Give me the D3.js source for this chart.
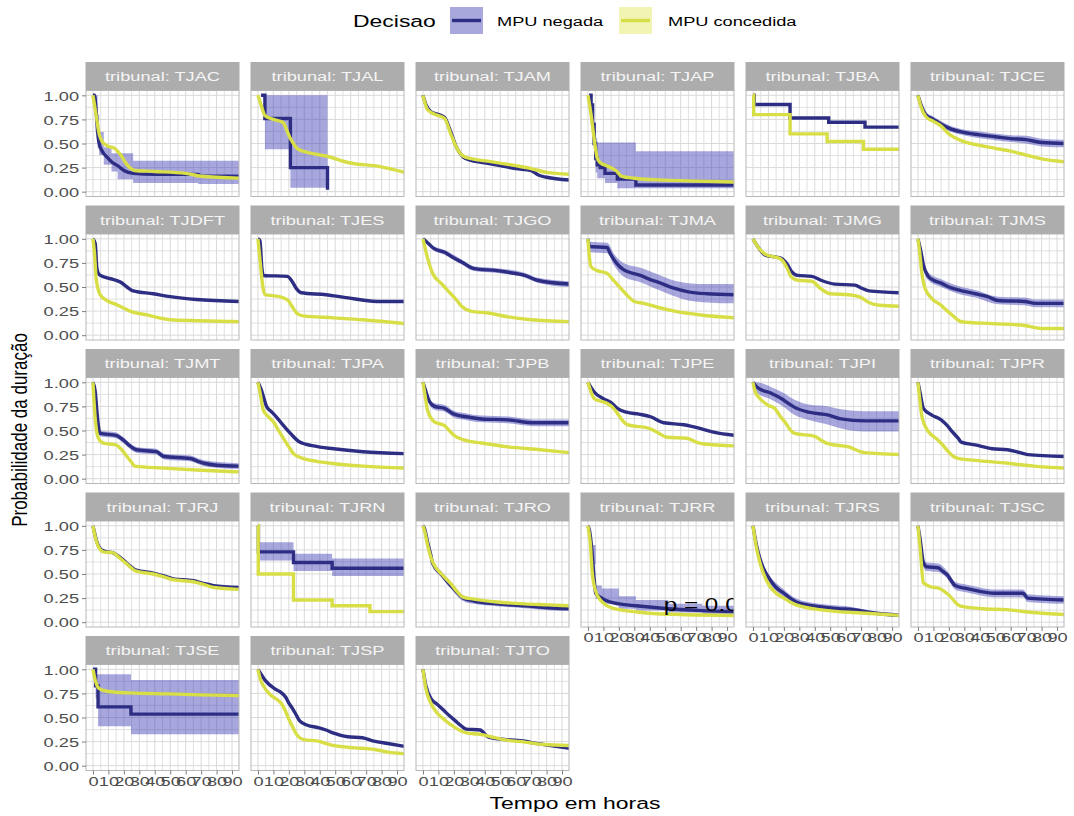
<!DOCTYPE html>
<html>
<head>
<meta charset="utf-8">
<script src="https://cdn.jsdelivr.net/npm/d3@7"></script>
<style>
body { margin: 0; background: #fff; }
text { font-family: "Liberation Sans", Arial, sans-serif; }
</style>
</head>
<body>
<svg id="chart" width="1074" height="816"></svg>
<script>
// dados (tempo em horas, probabilidade)
var tribunais = ["TJAC","TJAL","TJAM","TJAP","TJBA","TJCE",
                 "TJDFT","TJES","TJGO","TJMA","TJMG","TJMS",
                 "TJMT","TJPA","TJPB","TJPE","TJPI","TJPR",
                 "TJRJ","TJRN","TJRO","TJRR","TJRS","TJSC",
                 "TJSE","TJSP","TJTO"];

var negada = [
  [[0,1],[1,1],[2,0.85],[3,0.62],[4,0.5],[6,0.42],[9,0.36],[12,0.31],[16,0.27],[20,0.22],[26,0.19],[40,0.18],[68,0.18],[70,0.16],[95,0.16]],
  [[2,1],[4.5,0.76],[21,0.25],[45,0.02]],
  [[0,1],[2,0.9],[5,0.83],[10,0.8],[14,0.77],[18,0.62],[22,0.45],[26,0.36],[30,0.33],[40,0.3],[50,0.27],[60,0.24],[70,0.22],[75,0.17],[80,0.15],[95,0.12]],
  [[0.7,1],[2,0.9],[3,0.7],[4,0.5],[5,0.35],[6,0.28],[8,0.25],[11,0.19],[19,0.13],[31,0.07],[95,0.07]],
  [[0,1],[0.8,0.905],[24,0.765],[49,0.72],[72.5,0.67],[95,0.67]],
  [[0,1],[2,0.9],[5,0.8],[10,0.75],[15,0.7],[20,0.66],[28,0.62],[40,0.59],[50,0.57],[60,0.55],[70,0.54],[80,0.51],[95,0.5]],
  [[0,1],[1.5,0.95],[2.5,0.7],[4,0.63],[8,0.6],[13,0.58],[18,0.55],[22,0.5],[26,0.46],[39,0.43],[50,0.4],[67,0.37],[95,0.35]],
  [[0,1],[1.3,0.98],[2.5,0.7],[3.5,0.62],[19,0.61],[22,0.56],[25,0.48],[28,0.44],[44,0.42],[57,0.39],[77,0.35],[95,0.35]],
  [[0,1],[3,0.96],[7,0.9],[14,0.86],[20,0.8],[25,0.76],[33,0.69],[48,0.67],[60,0.64],[66,0.62],[74,0.57],[95,0.53]],
  [[0,1],[1,0.92],[12.5,0.91],[14,0.86],[17,0.78],[20,0.72],[23,0.68],[34,0.62],[40,0.58],[47,0.54],[55,0.49],[65,0.45],[77,0.43],[95,0.42]],
  [[0,1],[4,0.9],[8,0.83],[18,0.8],[22,0.74],[25,0.66],[29,0.62],[38,0.61],[44,0.57],[53,0.53],[66,0.52],[70,0.49],[75,0.46],[95,0.44]],
  [[0,1],[2,0.86],[3.5,0.73],[6.7,0.61],[10,0.57],[15,0.54],[20,0.5],[26,0.47],[37,0.43],[45,0.4],[52,0.36],[69,0.35],[76,0.33],[95,0.33]],
  [[0,1],[1.5,0.9],[2.4,0.73],[3.5,0.55],[4.6,0.47],[15,0.45],[19.7,0.4],[24,0.34],[28,0.3],[41,0.28],[46,0.23],[63,0.21],[68,0.18],[72,0.16],[80,0.14],[95,0.13]],
  [[0,1],[2,0.93],[5.6,0.75],[9,0.69],[12,0.64],[16,0.56],[21,0.47],[27,0.38],[36,0.34],[49,0.31],[68,0.28],[95,0.26]],
  [[0,1],[2,0.9],[4.2,0.8],[7.4,0.75],[14,0.73],[20,0.67],[29,0.64],[38,0.62],[55,0.61],[72,0.58],[95,0.58]],
  [[0,1],[4,0.9],[10,0.83],[15,0.79],[19,0.73],[25,0.69],[33,0.67],[41,0.64],[49,0.58],[62,0.56],[73,0.52],[82,0.48],[95,0.45]],
  [[0,1],[2,0.96],[3.5,0.94],[12,0.885],[18.6,0.83],[23,0.78],[27,0.74],[36,0.69],[49,0.66],[57,0.62],[72,0.6],[95,0.6]],
  [[0,1],[1.5,0.88],[3.5,0.73],[9,0.66],[15,0.61],[19,0.55],[22,0.49],[26,0.42],[28,0.38],[37,0.35],[48,0.31],[58,0.3],[66,0.27],[71,0.25],[95,0.23]],
  [[0,1],[1,0.93],[2.4,0.84],[4,0.78],[6.7,0.74],[13,0.72],[17,0.68],[20,0.64],[25,0.57],[28,0.54],[39,0.51],[46,0.48],[52,0.45],[65,0.43],[72,0.4],[78,0.38],[95,0.36]],
  [[0,1],[0.3,0.73],[23,0.62],[48,0.56],[95,0.56]],
  [[0,1],[1,0.97],[3,0.83],[5,0.7],[6.3,0.61],[11.7,0.5],[18,0.38],[22,0.31],[26,0.25],[33,0.22],[48,0.19],[66,0.17],[81,0.15],[95,0.14]],
  [[0,1],[1,0.95],[2.8,0.7],[4,0.45],[5,0.3],[9,0.25],[14,0.21],[20,0.19],[31,0.17],[52,0.14],[74,0.12],[95,0.11]],
  [[0,1],[2.4,0.79],[4.5,0.66],[6.7,0.56],[11,0.44],[15,0.36],[20,0.3],[24,0.25],[28,0.21],[35,0.18],[43,0.16],[55,0.14],[65,0.13],[76,0.1],[95,0.07]],
  [[0,1],[1.5,0.85],[3.5,0.62],[5.6,0.575],[13,0.565],[16,0.53],[19,0.49],[22,0.42],[24,0.38],[31,0.35],[40,0.32],[49,0.3],[68,0.3],[71,0.25],[95,0.23]],
  [[0,1],[1.7,0.83],[3.3,0.61],[24.6,0.535],[95,0.535]],
  [[0,1],[2,0.95],[4.7,0.885],[10.7,0.8],[14,0.77],[18,0.71],[20,0.65],[22.5,0.59],[25,0.52],[27,0.465],[32,0.42],[39,0.395],[44,0.37],[48.5,0.34],[58,0.3],[67.5,0.29],[75,0.255],[84,0.23],[95,0.2]],
  [[0,1],[1.9,0.83],[5.4,0.69],[9,0.64],[13.7,0.57],[17,0.52],[21,0.465],[25,0.41],[28,0.38],[37,0.37],[42,0.3],[54,0.27],[66,0.255],[70,0.24],[78,0.22],[95,0.18]]
];

var concedida = [
  [[0,1],[2,0.8],[4,0.6],[6,0.52],[10,0.47],[14,0.45],[18,0.38],[22,0.28],[27,0.22],[40,0.21],[60,0.19],[70,0.16],[95,0.14]],
  [[0,1],[2,0.9],[4.5,0.79],[10,0.75],[16,0.72],[20.7,0.56],[26,0.44],[34,0.4],[44,0.37],[59,0.3],[79,0.26],[95,0.2]],
  [[0,1],[3,0.85],[8,0.8],[14,0.76],[18,0.6],[22,0.45],[26,0.37],[32,0.34],[45,0.31],[60,0.27],[70,0.24],[80,0.2],[95,0.18]],
  [[0,1],[2,0.8],[4,0.55],[6,0.35],[8,0.3],[12,0.27],[18,0.22],[22,0.16],[30,0.14],[50,0.12],[70,0.11],[95,0.1]],
  [[0,1],[0.5,0.8],[24,0.6],[48,0.52],[71.5,0.44],[95,0.44]],
  [[0,1],[2,0.88],[5,0.78],[10,0.73],[15,0.68],[20,0.6],[28,0.53],[40,0.48],[50,0.45],[60,0.42],[70,0.38],[80,0.34],[95,0.31]],
  [[0,1],[1,0.85],[2,0.6],[3,0.5],[4.6,0.42],[9,0.36],[15,0.32],[20,0.28],[24,0.25],[35,0.21],[50,0.16],[67,0.15],[95,0.14]],
  [[0,1],[1.5,0.75],[3,0.52],[4.5,0.42],[14,0.4],[19.6,0.36],[22,0.3],[25,0.23],[29,0.2],[49,0.18],[68,0.16],[95,0.12]],
  [[0,1],[3,0.8],[6.3,0.64],[11.7,0.54],[18,0.43],[22,0.36],[25,0.3],[31,0.25],[42,0.23],[55,0.19],[70,0.16],[95,0.14]],
  [[0,1],[1,0.8],[2,0.71],[6,0.67],[12.5,0.64],[16,0.58],[21,0.49],[25,0.42],[30,0.35],[36,0.33],[45,0.29],[56,0.25],[73,0.21],[95,0.18]],
  [[0,1],[4,0.9],[8,0.84],[18,0.79],[22,0.7],[25,0.6],[29,0.57],[38,0.56],[44,0.48],[50,0.43],[62,0.42],[70,0.39],[75,0.34],[82,0.31],[95,0.3]],
  [[0,1],[1.2,0.85],[2.4,0.66],[4.5,0.49],[9,0.38],[15,0.31],[19,0.25],[22,0.21],[28,0.14],[48,0.12],[69,0.1],[80,0.07],[95,0.07]],
  [[0,1],[1.3,0.66],[2.5,0.48],[3.5,0.42],[6.7,0.37],[15,0.35],[18,0.31],[22,0.23],[25,0.17],[27,0.13],[46,0.11],[67,0.09],[95,0.07]],
  [[0,1],[1.5,0.88],[3.5,0.71],[7,0.64],[10,0.59],[13,0.51],[16.4,0.42],[20,0.33],[23,0.26],[29,0.21],[38,0.18],[47,0.16],[68,0.13],[95,0.11]],
  [[0,1],[1.5,0.85],[3,0.71],[7.4,0.59],[14,0.55],[17,0.5],[20,0.45],[27,0.4],[38,0.37],[55,0.33],[76,0.3],[95,0.27]],
  [[0,1],[2,0.9],[4,0.83],[12.5,0.78],[16,0.74],[19,0.68],[22,0.61],[25.5,0.56],[40,0.52],[46,0.47],[51,0.43],[64,0.42],[70,0.38],[75,0.36],[95,0.34]],
  [[0,1],[1.5,0.9],[3.5,0.85],[10,0.76],[14,0.73],[18,0.64],[21,0.58],[24,0.51],[27,0.47],[40,0.44],[45,0.39],[49,0.36],[62,0.33],[68,0.29],[72,0.27],[95,0.25]],
  [[0,1],[1.2,0.82],[2.4,0.66],[4.5,0.55],[6.7,0.49],[13,0.4],[16,0.35],[19.6,0.28],[23,0.23],[26,0.21],[37,0.19],[58,0.16],[75,0.13],[95,0.11]],
  [[0,1],[1,0.92],[2.4,0.83],[4,0.77],[6.7,0.73],[13,0.72],[17,0.67],[20,0.63],[25,0.56],[28,0.53],[39,0.5],[46,0.47],[52,0.44],[65,0.42],[72,0.39],[78,0.36],[95,0.34]],
  [[0,1],[0.2,0.5],[23,0.23],[48,0.17],[72.5,0.11],[95,0.11]],
  [[0,1],[1,0.95],[3,0.8],[5,0.68],[7,0.6],[12,0.5],[18,0.4],[22,0.32],[26,0.26],[33,0.24],[48,0.21],[66,0.19],[81,0.18],[95,0.17]],
  [[0,1],[1.5,0.82],[2.8,0.51],[4,0.38],[6,0.28],[8,0.23],[11.5,0.18],[20,0.13],[30,0.11],[42,0.09],[60,0.08],[95,0.07]],
  [[0,1],[2.4,0.76],[4.5,0.62],[6.7,0.51],[11,0.37],[15,0.3],[20,0.25],[24,0.21],[28,0.18],[35,0.15],[43,0.13],[55,0.11],[65,0.1],[76,0.09],[95,0.07]],
  [[0,1],[1.5,0.75],[3.5,0.41],[7.8,0.37],[14,0.35],[17,0.32],[20.7,0.27],[24,0.21],[27,0.17],[42,0.14],[57,0.13],[75,0.1],[95,0.08]],
  [[0,1],[1,0.92],[2,0.86],[4,0.8],[10,0.77],[24,0.755],[48,0.745],[70,0.735],[95,0.727]],
  [[0,1],[1.5,0.9],[3.5,0.83],[8.3,0.73],[12,0.69],[15.4,0.64],[18,0.56],[20,0.48],[22.5,0.4],[25,0.325],[29.6,0.27],[39,0.255],[44,0.23],[48.5,0.21],[63,0.185],[72,0.175],[78,0.16],[84,0.14],[95,0.125]],
  [[0,1],[1.9,0.8],[5.4,0.64],[9,0.55],[13.7,0.48],[20.8,0.395],[28,0.34],[37,0.325],[44,0.3],[54,0.265],[66,0.245],[78,0.22],[95,0.21]]
];

// intervalo de confianca da curva "MPU negada": [tempo, inferior, superior]
var faixaNegada = [
  [[1,1,1],[2,0.6,1],[3,0.45,0.8],[4,0.38,0.62],[7,0.28,0.46],[12,0.21,0.4],[16,0.13,0.4],[26,0.09,0.32],[68,0.08,0.32],[95,0.08,0.32]],
  [[2,1,1],[4.5,0.44,1],[21,0.04,1],[45,0.04,1]],
  null,
  [[0.7,1,1],[2,0.75,1],[3,0.5,0.88],[4,0.32,0.7],[5,0.2,0.56],[6,0.14,0.51],[11,0.09,0.51],[19,0.035,0.51],[31,0.035,0.42],[95,0.035,0.42]],
  null,
  [[0,1,1],[2,0.87,0.93],[5,0.77,0.83],[10,0.72,0.78],[15,0.67,0.73],[20,0.63,0.69],[28,0.59,0.65],[40,0.555,0.625],[50,0.535,0.605],[60,0.515,0.585],[70,0.5,0.58],[80,0.47,0.55],[95,0.46,0.54]],
  null,
  null,
  [[0,1,1],[7,0.88,0.92],[14,0.835,0.885],[25,0.735,0.785],[33,0.665,0.715],[48,0.645,0.695],[66,0.595,0.645],[74,0.545,0.595],[95,0.5,0.56]],
  [[0,1,1],[1,0.86,0.97],[12.5,0.85,0.96],[17,0.72,0.84],[23,0.61,0.75],[34,0.55,0.7],[47,0.46,0.62],[55,0.41,0.57],[65,0.36,0.54],[77,0.34,0.53],[95,0.33,0.53]],
  null,
  [[0,1,1],[2,0.83,0.89],[3.5,0.69,0.77],[6.7,0.57,0.65],[15,0.5,0.58],[26,0.43,0.51],[37,0.39,0.47],[52,0.32,0.4],[69,0.31,0.39],[76,0.29,0.37],[95,0.29,0.37]],
  [[0,1,1],[2.4,0.7,0.76],[4.6,0.44,0.5],[15,0.42,0.48],[19.7,0.37,0.43],[28,0.27,0.33],[41,0.25,0.31],[46,0.2,0.26],[63,0.18,0.24],[72,0.13,0.19],[95,0.1,0.16]],
  null,
  [[0,1,1],[4.2,0.77,0.83],[7.4,0.715,0.785],[14,0.695,0.765],[20,0.635,0.705],[29,0.605,0.675],[38,0.585,0.655],[55,0.575,0.645],[72,0.545,0.615],[95,0.545,0.615]],
  null,
  [[0,1,1],[2,0.9,1],[12,0.82,0.95],[18.6,0.76,0.9],[27,0.66,0.82],[36,0.61,0.77],[49,0.56,0.75],[57,0.52,0.72],[72,0.49,0.7],[95,0.49,0.7]],
  null,
  null,
  [[0,1,1],[0.3,0.64,0.83],[23,0.53,0.71],[48,0.48,0.66],[95,0.48,0.66]],
  [[0,1,1],[3,0.8,0.86],[6.3,0.58,0.64],[11.7,0.47,0.53],[18,0.35,0.41],[26,0.22,0.28],[33,0.19,0.25],[48,0.165,0.215],[66,0.145,0.195],[81,0.125,0.175],[95,0.115,0.165]],
  [[0,1,1],[2.8,0.6,0.8],[5,0.24,0.38],[9,0.19,0.35],[20,0.14,0.27],[31,0.12,0.23],[52,0.1,0.19],[74,0.08,0.17],[95,0.07,0.16]],
  [[0,1,1],[2.4,0.75,0.83],[6.7,0.52,0.6],[11,0.4,0.48],[20,0.26,0.34],[28,0.175,0.245],[43,0.13,0.19],[65,0.105,0.155],[76,0.08,0.12],[95,0.05,0.09]],
  [[0,1,1],[1.5,0.8,0.9],[3.5,0.57,0.67],[5.6,0.53,0.62],[13,0.52,0.61],[19,0.45,0.53],[24,0.34,0.42],[31,0.31,0.39],[40,0.28,0.36],[49,0.26,0.34],[68,0.26,0.34],[71,0.21,0.29],[95,0.19,0.27]],
  [[0,1,1],[1.7,0.7,0.95],[3.3,0.41,0.95],[24.6,0.325,0.89],[95,0.325,0.89]],
  null,
  null
];

// curvas desenhadas em degraus
var degrauNegada = ["TJAL","TJAP","TJBA","TJRN","TJSE"];
var degrauConcedida = ["TJBA","TJRN"];
var degrauFaixa = ["TJAC","TJAL","TJAP","TJRN","TJRR","TJSE"];

var ticksX = [0,10,20,30,40,50,60,70,80,90];
var minorX = [5,15,25,35,45,55,65,75,85];
var ticksY = [0,0.25,0.5,0.75,1];
var minorY = [0.125,0.375,0.625,0.875];
var legenda = ["MPU negada","MPU concedida"];
var pvalor = "p = 0.0";

var SX = 1.35;  // largura das letras na figura
var corNeg = "#2d2e83", corCon = "#d8de45";

var svg = d3.select("#chart");
svg.append("rect").attr("width",1074).attr("height",816).attr("fill","#fff");

function escreve(g, x, y, s, size, cor, anchor) {
  return g.append("text")
      .attr("transform", "translate(" + x + "," + y + ") scale(" + SX + ",1)")
      .attr("text-anchor", anchor || "start")
      .attr("font-size", size)
      .attr("fill", cor)
      .text(s);
}

var left0 = 86, colW = 153, colPitch = 165;
var top0 = 62, rowPitch = 143.5, stripH = 28.5, panelH = 106;
var defs = svg.append("defs");

tribunais.forEach(function(tj, i) {
  var col = i % 6, row = Math.floor(i / 6);
  var x0 = left0 + col * colPitch;
  var ys = top0 + row * rowPitch;
  var y0 = ys + stripH;

  var x = d3.scaleLinear().domain([-4.5, 94.5]).range([x0, x0 + colW]);
  var y = d3.scaleLinear().domain([-0.05, 1.05]).range([y0 + panelH, y0]);

  var g = svg.append("g").attr("class", "painel");

  defs.append("clipPath").attr("id", "clip" + i)
    .append("rect").attr("x", x0).attr("y", y0).attr("width", colW).attr("height", panelH);

  // grade
  g.selectAll(".gx").data(minorX.concat(ticksX)).enter().append("line")
      .attr("x1", function(d) { return x(d); }).attr("x2", function(d) { return x(d); })
      .attr("y1", y0).attr("y2", y0 + panelH)
      .attr("stroke", "#d9d9d9").attr("stroke-width", function(d) { return d % 10 === 0 ? 1 : 0.8; });
  g.selectAll(".gy").data(minorY.concat(ticksY)).enter().append("line")
      .attr("y1", function(d) { return y(d); }).attr("y2", function(d) { return y(d); })
      .attr("x1", x0).attr("x2", x0 + colW)
      .attr("stroke", "#d9d9d9").attr("stroke-width", function(d) { return minorY.indexOf(d) >= 0 ? 0.8 : 1; });

  var dentro = g.append("g").attr("clip-path", "url(#clip" + i + ")");

  if (faixaNegada[i]) {
    var area = d3.area()
        .x(function(d) { return x(d[0]); })
        .y0(function(d) { return y(d[1]); })
        .y1(function(d) { return y(d[2]); })
        .curve(degrauFaixa.indexOf(tj) >= 0 ? d3.curveStepAfter : d3.curveMonotoneX);
    dentro.append("path").datum(faixaNegada[i])
        .attr("d", area).attr("fill", "#3b3bb5").attr("fill-opacity", 0.45);
  }

  var linha = function(passo) {
    return d3.line()
        .x(function(d) { return x(d[0]); })
        .y(function(d) { return y(d[1]); })
        .curve(passo ? d3.curveStepAfter : d3.curveMonotoneX);
  };

  dentro.append("path").datum(negada[i])
      .attr("d", linha(degrauNegada.indexOf(tj) >= 0))
      .attr("fill", "none").attr("stroke", corNeg).attr("stroke-width", 3.4);
  dentro.append("path").datum(concedida[i])
      .attr("d", linha(degrauConcedida.indexOf(tj) >= 0))
      .attr("fill", "none").attr("stroke", corCon).attr("stroke-width", 3.4);

  if (tj === "TJRR") {
    escreve(dentro, x(49), y(0.12), pvalor, 18, "#000");
  }

  g.append("rect").attr("x", x0).attr("y", y0).attr("width", colW).attr("height", panelH)
      .attr("fill", "none").attr("stroke", "#b8b8b8").attr("stroke-width", 1);

  // faixa do titulo
  g.append("rect").attr("x", x0 - 0.5).attr("y", ys).attr("width", colW + 1).attr("height", stripH)
      .attr("fill", "#adadad");
  escreve(g, x0 + colW / 2, ys + 19, "tribunal: " + tj, 13.5, "#f5f5f5", "middle");

  if (col === 0) {
    var eixoY = g.append("g").attr("transform", "translate(" + x0 + ",0)")
        .call(d3.axisLeft(y).tickValues(ticksY).tickFormat(d3.format(".2f")).tickSize(4).tickPadding(2));
    eixoY.select(".domain").remove();
    eixoY.selectAll("line").attr("stroke", "#7f7f7f");
    eixoY.selectAll("text").attr("x", null).attr("dy", null)
        .attr("transform", "translate(-7,4.8) scale(" + SX + ",1)")
        .attr("font-size", 13.5).attr("fill", "#4d4d4d")
        .style("font-family", "'Liberation Sans', Arial, sans-serif");
  }
  if (i + 6 >= tribunais.length) {
    var eixoX = g.append("g").attr("transform", "translate(0," + (y0 + panelH) + ")")
        .call(d3.axisBottom(x).tickValues(ticksX).tickSize(4));
    eixoX.select(".domain").remove();
    eixoX.selectAll("line").attr("stroke", "#7f7f7f");
    eixoX.selectAll("text").attr("y", null).attr("dy", null)
        .attr("transform", "translate(0,15) scale(" + SX + ",1)")
        .attr("font-size", 13.5).attr("fill", "#4d4d4d")
        .style("font-family", "'Liberation Sans', Arial, sans-serif");
  }
});

// titulos dos eixos
escreve(svg, 575, 809, "Tempo em horas", 17, "#000", "middle");
svg.append("text")
    .attr("transform", "translate(27,430) scale(" + SX + ",1) rotate(-90)")
    .attr("text-anchor", "middle").attr("font-size", 17).attr("fill", "#000")
    .text("Probabilidade da duração");

// legenda
var leg = svg.append("g");
escreve(leg, 353, 27, "Decisao", 17, "#000");
var chaves = [
  {x: 450, fundo: "#a8a8dc", cor: corNeg, tx: 497},
  {x: 619, fundo: "#f2f4b4", cor: corCon, tx: 668}
];
chaves.forEach(function(k, j) {
  leg.append("rect").attr("x", k.x).attr("y", 7).attr("width", 33).attr("height", 27).attr("fill", k.fundo);
  leg.append("line").attr("x1", k.x + 2).attr("x2", k.x + 31).attr("y1", 20.5).attr("y2", 20.5)
      .attr("stroke", k.cor).attr("stroke-width", 3.4);
  escreve(leg, k.tx, 26, legenda[j], 13.5, "#000");
});
</script>
</body>
</html>
